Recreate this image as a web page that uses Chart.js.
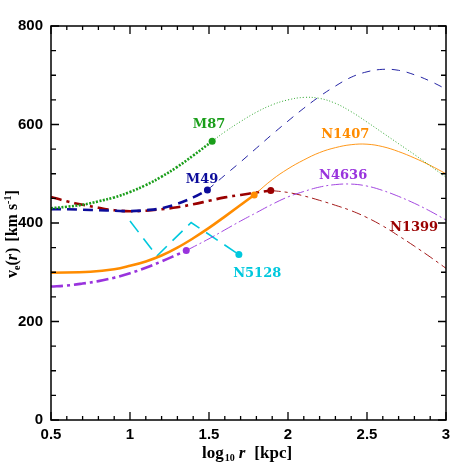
<!DOCTYPE html>
<html>
<head>
<meta charset="utf-8">
<script src="https://cdn.jsdelivr.net/npm/chart.js@4"></script>
<style>
  html, body { margin: 0; padding: 0; background: #fff; }
  #wrap { width: 471px; height: 471px; }
</style>
</head>
<body>
<div id="wrap"><canvas id="vcChart" width="471" height="471"></canvas></div>
<script>
// jari-jari (log10 r) dan kecepatan escape tiap galaksi
const m87X = [0.5, 0.6, 0.7, 0.8, 0.9, 1.0, 1.1, 1.2, 1.3, 1.4, 1.52];
const m87V = [430, 433, 437, 444, 452, 463, 477, 494, 514, 537, 566];
const m87XOut = [1.52, 1.6, 1.7, 1.8, 1.9, 2.0, 2.1, 2.2, 2.3, 2.4, 2.5, 2.6, 2.7, 2.8, 2.9, 3.0];
const m87VOut = [566, 585, 606, 625, 640, 650, 655, 653, 643, 626, 605, 583, 561, 539, 516, 493];

const m49X = [0.5, 0.6, 0.7, 0.8, 0.9, 1.0, 1.1, 1.2, 1.3, 1.4, 1.49];
const m49V = [428, 428, 427, 426, 425, 424, 426, 430, 439, 452, 467];
const m49XOut = [1.49, 1.6, 1.7, 1.8, 1.9, 2.0, 2.1, 2.2, 2.3, 2.4, 2.5, 2.6, 2.7, 2.8, 2.9, 3.0];
const m49VOut = [467, 497, 524, 552, 580, 607, 633, 657, 678, 696, 707, 712, 710, 701, 688, 672];

const n1407X = [0.5, 0.75, 0.9, 1.0, 1.1, 1.2, 1.3, 1.4, 1.5, 1.6, 1.786];
const n1407V = [299, 301, 306, 313, 322, 334, 350, 369, 390, 413, 457];
const n1407XOut = [1.786, 1.9, 2.0, 2.1, 2.2, 2.3, 2.4, 2.5, 2.6, 2.7, 2.8, 2.9, 3.0];
const n1407VOut = [457, 488, 510, 528, 543, 553, 559, 560, 555, 545, 532, 517, 500];

const n4636X = [0.5, 0.6, 0.7, 0.8, 0.9, 1.0, 1.1, 1.2, 1.3, 1.356];
const n4636V = [271, 273, 277, 282, 289, 298, 309, 322, 336, 344];
const n4636XOut = [1.356, 1.5, 1.6, 1.7, 1.8, 1.9, 2.0, 2.1, 2.2, 2.3, 2.4, 2.5, 2.6, 2.7, 2.8, 2.9, 3.0];
const n4636VOut = [344, 368, 386, 404, 421, 438, 453, 464, 473, 478, 479, 475, 466, 454, 440, 424, 406];

const n1399X = [0.5, 0.6, 0.7, 0.8, 0.9, 1.0, 1.1, 1.2, 1.3, 1.4, 1.5, 1.6, 1.7, 1.8, 1.891];
const n1399V = [453, 444, 437, 431, 426, 424, 425, 428, 432, 438, 445, 452, 457, 462, 466];
const n1399XOut = [1.891, 2.0, 2.1, 2.2, 2.3, 2.4, 2.5, 2.6, 2.7, 2.8, 2.9, 3.0];
const n1399VOut = [466, 462, 455, 446, 436, 425, 411, 394, 374, 353, 331, 308];

const n5128X = [1.0, 1.17, 1.387, 1.689];
const n5128V = [404, 333, 401, 336];

// label [nama, x, v]
const labelNames = ['M87', 'M49', 'N1407', 'N4636', 'N1399', 'N5128'];
const labelX = [1.50, 1.456, 2.362, 2.349, 2.798, 1.805];
const labelV = [600, 489, 580, 497, 390, 298];

const xTicks = [0.5, 1, 1.5, 2, 2.5, 3];
const yTicks = [0, 200, 400, 600, 800];

const cGreen = '#1a9e1a';
const cBlue = '#0c0c9a';
const cOrange = '#ff8c00';
const cPurple = '#9933dd';
const cRed = '#9a0000';
const cCyan = '#00c8dd';
const labelColors = [cGreen, cBlue, cOrange, cPurple, cRed, cCyan];

function pts(xs, vs) {
    return xs.map((x, i) => ({ x: x, y: vs[i] }));
}

function thick(xs, vs, color, dash) {
    return {
        data: pts(xs, vs), borderColor: color, backgroundColor: color,
        borderWidth: 2.6, borderDash: dash, tension: 0.4,
        pointRadius: (c) => c.dataIndex === xs.length - 1 ? 3.5 : 0,
        pointBorderWidth: 0
    };
}

function thin(xs, vs, color, dash) {
    return {
        data: pts(xs, vs), borderColor: color, borderWidth: 0.9,
        borderDash: dash, tension: 0.4, pointRadius: 0
    };
}

const boxPlugin = {
    id: 'boxPlugin',
    afterDraw(chart) {
        const c = chart.ctx;
        const a = chart.chartArea;
        const xs = chart.scales.x, ys = chart.scales.y;
        c.save();
        c.strokeStyle = '#000';
        c.lineWidth = 1.5;
        c.strokeRect(a.left, a.top, a.right - a.left, a.bottom - a.top);
        c.lineWidth = 1.3;
        c.beginPath();
        for (let i = 0; i <= 25; i++) {
            const v = 0.5 + i * 0.1;
            const px = xs.getPixelForValue(v);
            const len = i % 5 === 0 ? 8 : 4;
            c.moveTo(px, a.bottom); c.lineTo(px, a.bottom - len);
            c.moveTo(px, a.top); c.lineTo(px, a.top + len);
        }
        for (let i = 0; i <= 16; i++) {
            const py = ys.getPixelForValue(i * 50);
            const len = i % 4 === 0 ? 8 : 5;
            c.moveTo(a.left, py); c.lineTo(a.left + len, py);
            c.moveTo(a.right, py); c.lineTo(a.right - len, py);
        }
        c.stroke();

        // label galaksi
        c.font = 'bold 13px "DejaVu Serif"';
        c.textAlign = 'center';
        c.textBaseline = 'middle';
        labelNames.forEach((n, i) => {
            c.fillStyle = labelColors[i];
            c.fillText(n, xs.getPixelForValue(labelX[i]), ys.getPixelForValue(labelV[i]));
        });

        // judul sumbu x: log10 r [kpc]
        c.fillStyle = '#000';
        c.textAlign = 'left';
        c.textBaseline = 'alphabetic';
        let x0 = 202, y0 = 458;
        c.font = 'bold 17px "Liberation Serif"';
        c.fillText('log', x0, y0); x0 += c.measureText('log').width + 1;
        c.font = 'bold 10px "Liberation Serif"';
        c.fillText('10', x0, y0 + 3); x0 += c.measureText('10').width + 4;
        c.font = 'bold italic 17px "Liberation Serif"';
        c.fillText('r', x0, y0); x0 += c.measureText('r').width + 9;
        c.font = 'bold 17px "Liberation Serif"';
        c.fillText('[kpc]', x0, y0);

        // judul sumbu y: ve(r) [km s-1]
        c.translate(17, 225);
        c.rotate(-Math.PI / 2);
        let t = -53;
        c.font = 'bold 16px "Liberation Serif"';
        c.fillText('v', t, 0); t += c.measureText('v').width;
        c.font = 'bold 10px "Liberation Serif"';
        c.fillText('e', t, 3); t += c.measureText('e').width;
        c.font = 'bold 16px "Liberation Serif"';
        c.fillText('(', t, 0); t += c.measureText('(').width;
        c.font = 'bold italic 16px "Liberation Serif"';
        c.fillText('r', t, 0); t += c.measureText('r').width + 1;
        c.font = 'bold 16px "Liberation Serif"';
        c.fillText(')', t, 0); t += c.measureText(')').width + 6;
        c.fillText('[km s', t, 0); t += c.measureText('[km s').width;
        c.font = 'bold 10px "Liberation Serif"';
        c.fillText('-1', t, -6); t += c.measureText('-1').width;
        c.font = 'bold 16px "Liberation Serif"';
        c.fillText(']', t, 0);
        c.restore();
    }
};

const ctx = document.getElementById('vcChart');
new Chart(ctx, {
    type: 'line',
    data: {
        datasets: [
            thin(m87XOut, m87VOut, cGreen, [1, 2]),
            thin(m49XOut, m49VOut, cBlue, [8, 7]),
            thin(n1407XOut, n1407VOut, cOrange, []),
            thin(n4636XOut, n4636VOut, cPurple, [12, 3, 2, 3]),
            thin(n1399XOut, n1399VOut, cRed, [10, 4, 3, 4]),
            thick(m87X, m87V, cGreen, [2, 1.5]),
            thick(m49X, m49V, cBlue, [10, 6]),
            thick(n1407X, n1407V, cOrange, []),
            thick(n4636X, n4636V, cPurple, [12, 4, 3, 4]),
            thick(n1399X, n1399V, cRed, [11, 5, 3, 5]),
            Object.assign(thick(n5128X, n5128V, cCyan, [14, 8]), { borderWidth: 1.6, tension: 0 })
        ]
    },
    options: {
        responsive: false,
        animation: false,
        layout: { padding: { top: 26, right: 25, left: 0, bottom: 0 } },
        plugins: { legend: { display: false }, tooltip: { enabled: false } },
        scales: {
            x: {
                type: 'linear', min: 0.5, max: 3,
                grid: { display: false, drawTicks: false },
                border: { display: false },
                afterFit: (s) => { s.height = 51; },
                afterBuildTicks: (s) => { s.ticks = xTicks.map(v => ({ value: v })); },
                ticks: {
                    padding: 6, color: '#000', maxRotation: 0,
                    font: { family: '"Liberation Sans"', weight: 'bold', size: 15 },
                    callback: (v) => String(v)
                }
            },
            y: {
                min: 0, max: 800,
                grid: { display: false, drawTicks: false },
                border: { display: false },
                afterFit: (s) => { s.width = 51; },
                afterBuildTicks: (s) => { s.ticks = yTicks.map(v => ({ value: v })); },
                ticks: {
                    padding: 8, color: '#000',
                    font: { family: '"Liberation Sans"', weight: 'bold', size: 15 }
                }
            }
        }
    },
    plugins: [boxPlugin]
});
</script>
</body>
</html>
